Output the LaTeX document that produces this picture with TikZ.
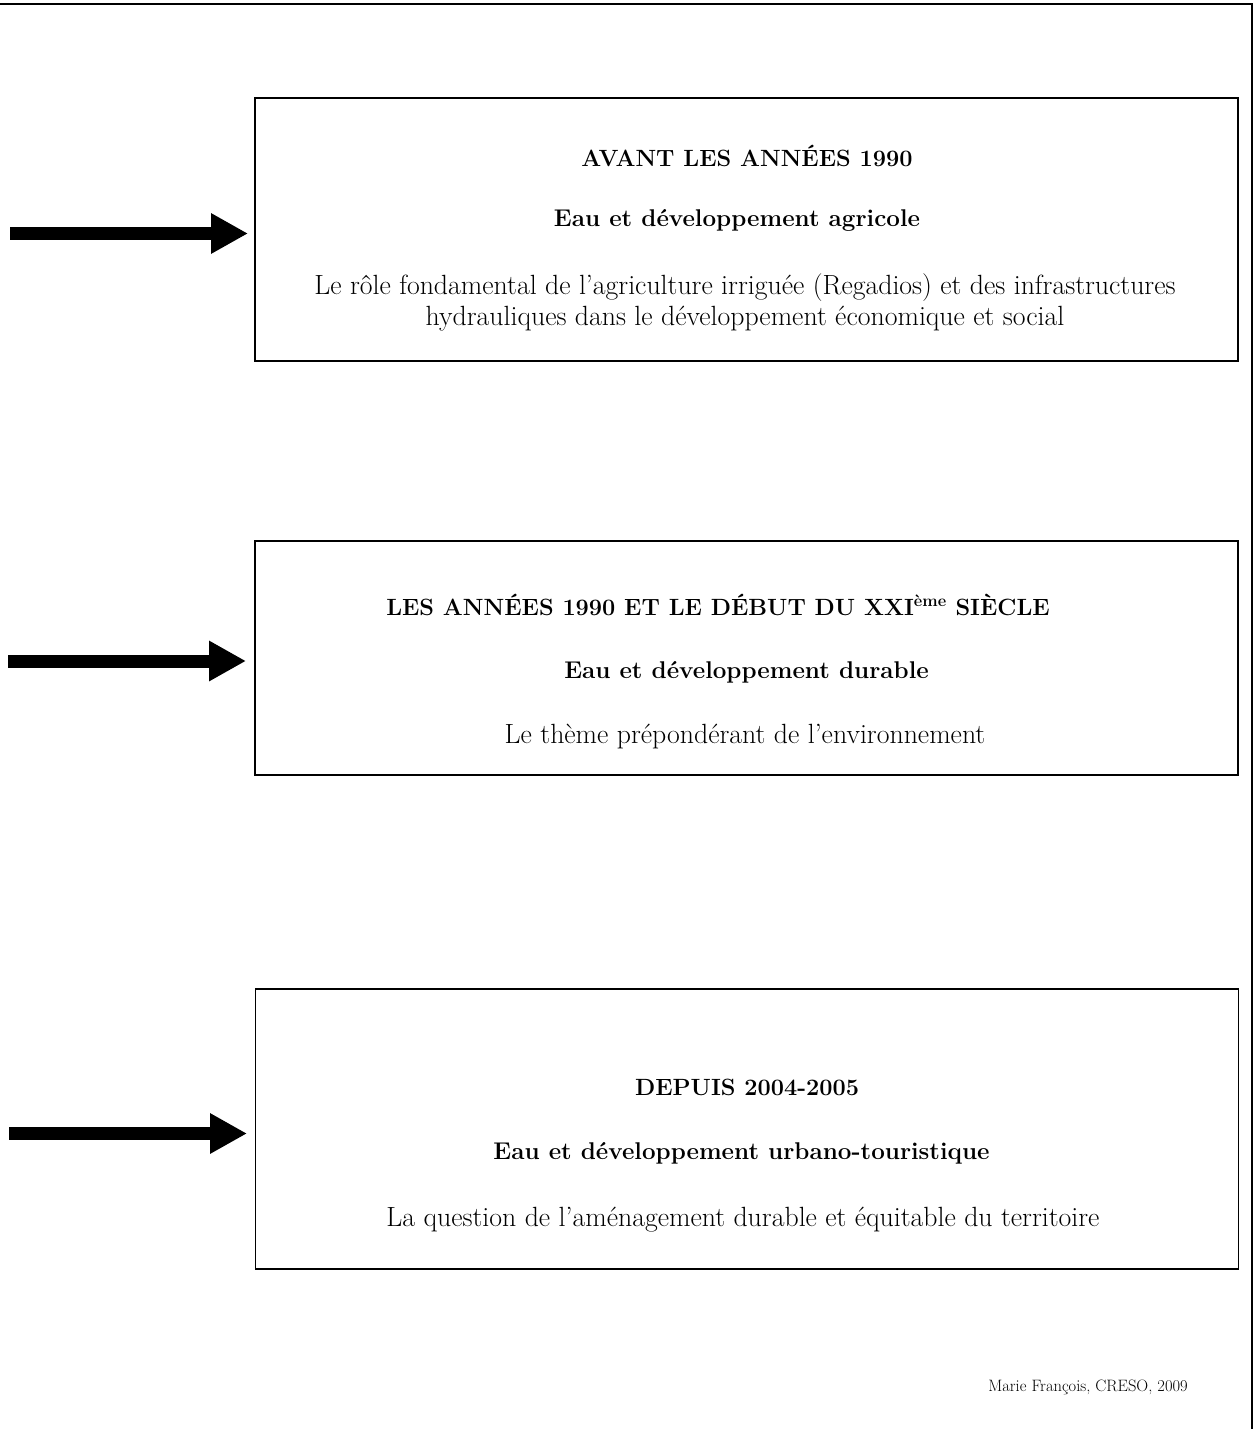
\documentclass[tikz,border=0pt]{standalone}
\usetikzlibrary{arrows.meta}
\begin{document}
\begin{tikzpicture}[x=1pt,y=-1pt,
  box/.style={draw=black,line width=1.4pt,minimum width=983pt,inner sep=0pt},
  ttl/.style={font=\fontsize{23.5}{28}\selectfont\bfseries,anchor=center},
  sub/.style={font=\fontsize{24.2}{28}\selectfont\bfseries,anchor=center},
  txt/.style={font=\fontsize{27.8}{31}\selectfont,align=center,anchor=center},
  bigarrow/.style={line width=13pt,-{Triangle[length=37pt,width=38pt]}}]
\useasboundingbox (0,0) rectangle (1259,1429);
% frame lines
\coordinate (tl) at (0,4);
\coordinate (tr) at (1252,4);
\coordinate (br) at (1252,1429);
\draw[line width=2pt] (tl) -- (tr) -- (br);
% boxes
\node[box,minimum height=263pt] (b1) at (746.5,229.5) {};
\node[box,minimum height=234pt] (b2) at (746.5,658) {};
\node[box,minimum height=280pt] (b3) at (747,1129) {};
% box 1 text
\node[ttl] (t1) at (747,156) {AVANT LES ANNÉES 1990};
\node[sub] (s1) at (737,220) {Eau et développement agricole};
\node[txt] (d1) at (745,302) {Le rôle fondamental de l’agriculture irriguée (Regadios) et des infrastructures\\hydrauliques dans le développement économique et social};
% box 2 text
\node[ttl] (t2) at (718,605) {LES ANNÉES 1990 ET LE DÉBUT DU XXI\textsuperscript{ème} SIÈCLE};
\node[sub] (s2) at (746.5,672) {Eau et développement durable};
\node[txt] (d2) at (745,737) {Le thème prépondérant de l’environnement};
% box 3 text
\node[ttl] (t3) at (747,1087) {DEPUIS 2004-2005};
\node[sub] (s3) at (741.5,1153) {Eau et développement urbano-touristique};
\node[txt] (d3) at (743,1220) {La question de l’aménagement durable et équitable du territoire};
% credit
\node[font=\fontsize{16.5}{20}\selectfont,anchor=center] (cr) at (1088,1387) {Marie François, CRESO, 2009};
% arrows
\coordinate (a1s) at (10,233.5);
\coordinate (a1e) at (248,233.5);
\coordinate (a2s) at (8,661);
\coordinate (a2e) at (246,661);
\coordinate (a3s) at (9,1133.5);
\coordinate (a3e) at (247,1133.5);
\draw[bigarrow] (a1s) -- (a1e);
\draw[bigarrow] (a2s) -- (a2e);
\draw[bigarrow] (a3s) -- (a3e);
\end{tikzpicture}
\end{document}
